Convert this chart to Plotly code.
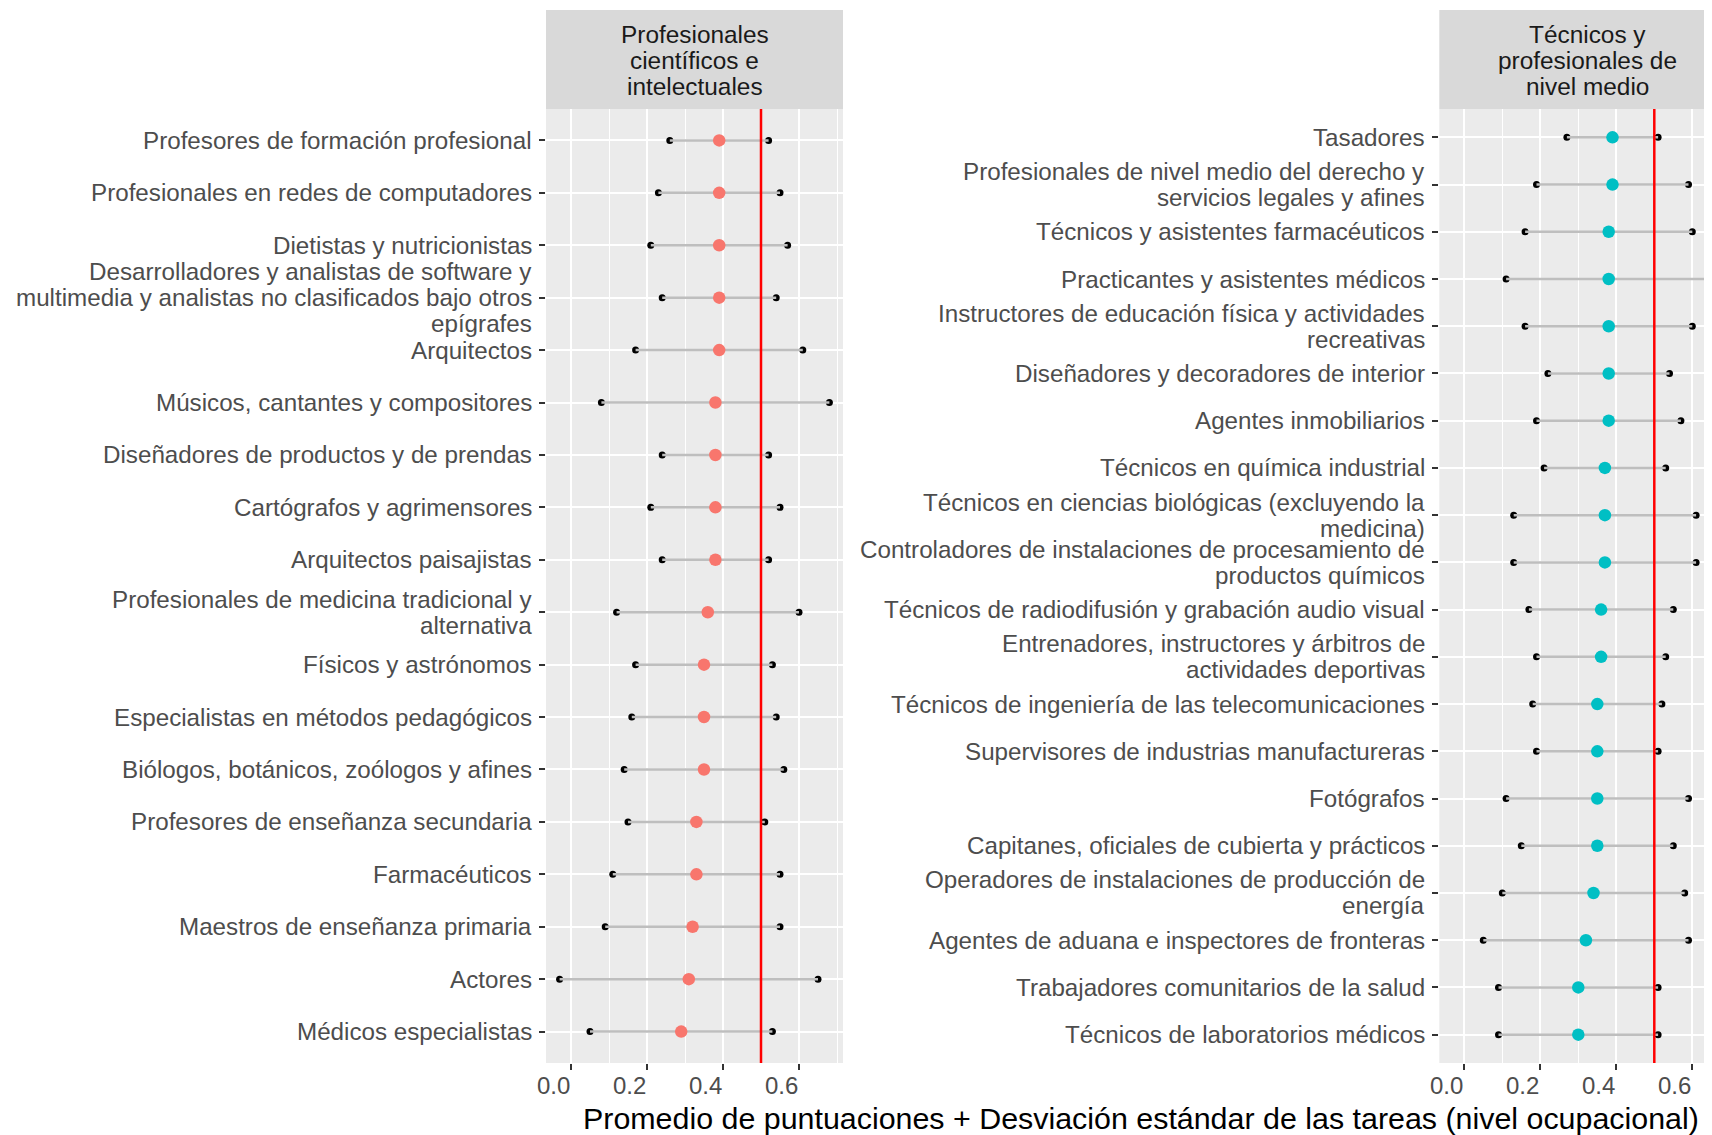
import plotly.graph_objects as go

# ---------------- data ----------------
panel_titles = ["Profesionales\ncientíficos e\nintelectuales",
                "Técnicos y\nprofesionales de\nnivel medio"]
x_title = "Promedio de puntuaciones + Desviación estándar de las tareas (nivel ocupacional)"
x_tickvals = [0.0, 0.2, 0.4, 0.6]
x_ticktext = ["0.0", "0.2", "0.4", "0.6"]
x_minorvals = [0.1, 0.3, 0.5, 0.7]
reference_value = 0.5

left_cats = [
    "Profesores de formación profesional",
    "Profesionales en redes de computadores",
    "Dietistas y nutricionistas",
    "Desarrolladores y analistas de software y\nmultimedia y analistas no clasificados bajo otros\nepígrafes",
    "Arquitectos",
    "Músicos, cantantes y compositores",
    "Diseñadores de productos y de prendas",
    "Cartógrafos y agrimensores",
    "Arquitectos paisajistas",
    "Profesionales de medicina tradicional y\nalternativa",
    "Físicos y astrónomos",
    "Especialistas en métodos pedagógicos",
    "Biólogos, botánicos, zoólogos y afines",
    "Profesores de enseñanza secundaria",
    "Farmacéuticos",
    "Maestros de enseñanza primaria",
    "Actores",
    "Médicos especialistas",
]
left_low = [0.26, 0.23, 0.21, 0.24, 0.17, 0.08, 0.24, 0.21, 0.24, 0.12,
            0.17, 0.16, 0.14, 0.15, 0.11, 0.09, -0.03, 0.05]
left_mean = [0.39, 0.39, 0.39, 0.39, 0.39, 0.38, 0.38, 0.38, 0.38, 0.36,
             0.35, 0.35, 0.35, 0.33, 0.33, 0.32, 0.31, 0.29]
left_high = [0.52, 0.55, 0.57, 0.54, 0.61, 0.68, 0.52, 0.55, 0.52, 0.60,
             0.53, 0.54, 0.56, 0.51, 0.55, 0.55, 0.65, 0.53]

right_cats = [
    "Tasadores",
    "Profesionales de nivel medio del derecho y\nservicios legales y afines",
    "Técnicos y asistentes farmacéuticos",
    "Practicantes y asistentes médicos",
    "Instructores de educación física y actividades\nrecreativas",
    "Diseñadores y decoradores de interior",
    "Agentes inmobiliarios",
    "Técnicos en química industrial",
    "Técnicos en ciencias biológicas (excluyendo la\nmedicina)",
    "Controladores de instalaciones de procesamiento de\nproductos químicos",
    "Técnicos de radiodifusión y grabación audio visual",
    "Entrenadores, instructores y árbitros de\nactividades deportivas",
    "Técnicos de ingeniería de las telecomunicaciones",
    "Supervisores de industrias manufactureras",
    "Fotógrafos",
    "Capitanes, oficiales de cubierta y prácticos",
    "Operadores de instalaciones de producción de\nenergía",
    "Agentes de aduana e inspectores de fronteras",
    "Trabajadores comunitarios de la salud",
    "Técnicos de laboratorios médicos",
]
right_low = [0.27, 0.19, 0.16, 0.11, 0.16, 0.22, 0.19, 0.21, 0.13, 0.13,
             0.17, 0.19, 0.18, 0.19, 0.11, 0.15, 0.10, 0.05, 0.09, 0.09]
right_mean = [0.39, 0.39, 0.38, 0.38, 0.38, 0.38, 0.38, 0.37, 0.37, 0.37,
              0.36, 0.36, 0.35, 0.35, 0.35, 0.35, 0.34, 0.32, 0.30, 0.30]
right_high = [0.51, 0.59, 0.60, 0.65, 0.60, 0.54, 0.57, 0.53, 0.61, 0.61,
              0.55, 0.53, 0.52, 0.51, 0.59, 0.55, 0.58, 0.59, 0.51, 0.51]

colors = ["#F8766D", "#00BFC4"]

# ---------------- layout geometry (window pixels) ----------------
OFF = 8                       # default body margin of the html page
W, H = 1712 - OFF, 1135 - OFF
FONT = "Liberation Sans, Arial, Helvetica, sans-serif"
PX_PER_UNIT = 380.0
panel_top, panel_bot = 109, 1063
strip_top = 10
panels_px = [(546.0, 843.0, 571.0), (1439.3, 1712.0, 1464.3)]  # left, right(visible), zero pos
true_right_edge = 1736.4


def px_x(p):
    return (p - OFF) / W


def px_y(p):
    return 1 - (p - OFF) / H


fig = go.Figure()
data = [(left_cats, left_low, left_mean, left_high),
        (right_cats, right_low, right_mean, right_high)]

annotations = []
shapes = []
for i, (cats, lo, mu, hi) in enumerate(data):
    xa = "x" if i == 0 else "x2"
    ya = "y" if i == 0 else "y2"
    keys = [c.replace("\n", " ") for c in cats]
    # end points
    fig.add_trace(go.Scatter(x=lo + hi, y=keys + keys, mode="markers",
                             marker=dict(color="black", size=7),
                             xaxis=xa, yaxis=ya, showlegend=False, hoverinfo="skip"))
    # segments
    sx, sy = [], []
    for k, a, b in zip(keys, lo, hi):
        sx += [a, b, None]
        sy += [k, k, None]
    fig.add_trace(go.Scatter(x=sx, y=sy, mode="lines",
                             line=dict(color="#BEBEBE", width=2.5),
                             xaxis=xa, yaxis=ya, showlegend=False, hoverinfo="skip"))
    # means
    fig.add_trace(go.Scatter(x=mu, y=keys, mode="markers",
                             marker=dict(color=colors[i], size=12.5),
                             xaxis=xa, yaxis=ya, showlegend=False))

    x0, x1, zero = panels_px[i]
    n = len(cats)
    xaxis = dict(
        domain=[px_x(x0), min(px_x(x1), 1.0)],
        range=[(x0 - zero) / PX_PER_UNIT, (x1 - zero) / PX_PER_UNIT],
        anchor=ya, tickvals=x_tickvals, showticklabels=False,
        ticks="outside", ticklen=6, tickwidth=2, tickcolor="#333333",
        showgrid=True, gridcolor="white", gridwidth=2, zeroline=False, showline=False,
        minor=dict(tickvals=x_minorvals, showgrid=True, gridcolor="white", gridwidth=1, ticks=""),
    )
    yaxis = dict(
        domain=[px_y(panel_bot), px_y(panel_top)],
        type="category", categoryorder="array", categoryarray=keys,
        range=[n - 0.4, -0.6], anchor=xa,
        ticks="outside", ticklen=6, tickwidth=2, tickcolor="#333333",
        showticklabels=False, showgrid=True, gridcolor="white", gridwidth=2,
        zeroline=False, showline=False,
    )
    if i == 0:
        fig.update_layout(xaxis=xaxis, yaxis=yaxis)
    else:
        fig.update_layout(xaxis2=xaxis, yaxis2=yaxis)

    # x tick labels (right-aligned at their ticks, as in the reference)
    for v, t in zip(x_tickvals, x_ticktext):
        annotations.append(dict(
            text=t, xref=xa, x=v, xanchor="right", xshift=1,
            yref="paper", y=px_y(1085), yanchor="middle",
            showarrow=False, font=dict(size=24, color="#4D4D4D", family=FONT)))

    # y labels (per line, right aligned)
    lab_x = px_x(x0 - 12)
    for key, c in zip(keys, cats):
        lines = c.split("\n")
        m = len(lines)
        for j, t in enumerate(lines):
            annotations.append(dict(
                text=t, xref="paper", x=lab_x, xanchor="right",
                yref=ya, y=key, yanchor="middle", yshift=((m - 1) / 2 - j) * 26,
                showarrow=False, font=dict(size=24.2, color="#4D4D4D", family=FONT)))

    # reference line
    shapes.append(dict(type="line", xref=xa, x0=reference_value, x1=reference_value,
                       yref=ya + " domain", y0=0, y1=1,
                       line=dict(color="red", width=2.5), layer="above"))
    # strip
    right_edge = x1 if i == 0 else true_right_edge
    shapes.append(dict(type="rect", xref="paper", yref="paper",
                       x0=px_x(x0), x1=min(px_x(right_edge), 1.0),
                       y0=px_y(panel_top), y1=px_y(strip_top),
                       fillcolor="#D9D9D9", line=dict(width=0), layer="below"))
    cx = (x0 + right_edge) / 2
    tlines = panel_titles[i].split("\n")
    for j, t in enumerate(tlines):
        annotations.append(dict(
            text=t, xref="paper", x=px_x(cx), xanchor="center",
            yref="paper", y=px_y(34.5 + 26 * j), yanchor="middle",
            showarrow=False, font=dict(size=24.4, color="#1A1A1A", family=FONT)))

# axis title
annotations.append(dict(
    text=x_title, xref="paper", x=px_x((546 + true_right_edge) / 2), xanchor="center",
    yref="paper", y=px_y(1117.5), yanchor="middle", showarrow=False,
    font=dict(size=30.4, color="black", family=FONT)))

fig.update_layout(
    width=W, height=H,
    margin=dict(l=0, r=0, t=0, b=0),
    paper_bgcolor="white", plot_bgcolor="#EBEBEB",
    annotations=annotations, shapes=shapes,
    showlegend=False,
    font=dict(family=FONT),
)

fig.write_html("out.html")
